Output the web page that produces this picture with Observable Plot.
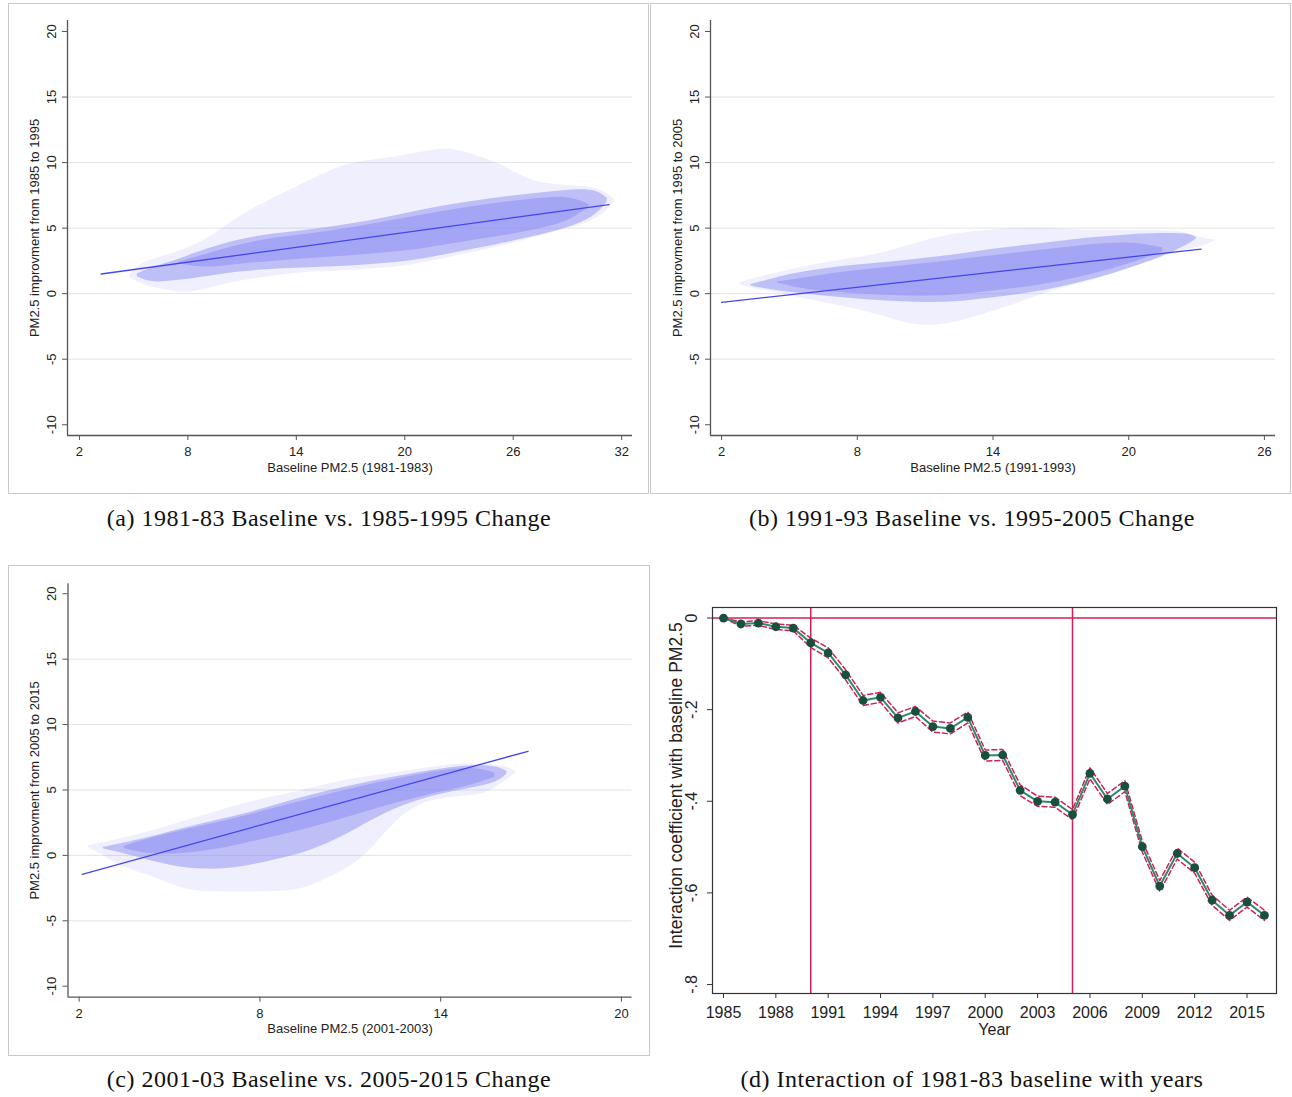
<!DOCTYPE html>
<html><head><meta charset="utf-8">
<script src="https://cdn.jsdelivr.net/npm/d3@7"></script>
<script src="https://cdn.jsdelivr.net/npm/@observablehq/plot@0.6"></script>
<style>
body{margin:0;background:#fff;}
#root{position:relative;width:1292px;height:1097px;overflow:hidden;background:#fff;}
.panel{position:absolute;}
.frame{position:absolute;border:1px solid #c9c9c9;box-sizing:border-box;}
.cap{position:absolute;font-family:"Liberation Serif",serif;font-size:24px;letter-spacing:0.5px;line-height:24px;text-align:center;white-space:nowrap;color:#111;}
</style></head><body><div id="root"></div>
<script>
// ---------- Shared scatter-panel axes ----------
const yTicksScatter = [-10, -5, 0, 5, 10, 15, 20];
const yGridScatter = [-5, 0, 5, 10, 15];

// ---------- Panel (a): 1981-83 baseline vs 1985-1995 change ----------
const aXTicks = [2, 8, 14, 20, 26, 32];
const aXLabel = "Baseline PM2.5 (1981-1983)";
const aYLabel = "PM2.5 improvment from 1985 to 1995";
// point-cloud envelopes (faint outer, band, dense core)
const aOuterX  = [4.8, 5.3, 6.5, 8.0, 9.5, 10.5, 12.0, 13.5, 15.0, 16.5, 18.0, 19.5, 21.0, 22.5, 24.0, 25.5, 27.0, 28.5, 30.0, 31.0, 31.6];
const aOuterLo = [1.2, 0.8, 0.3, 0.0, 0.5, 0.9, 1.2, 1.5, 1.7, 1.7, 1.9, 2.0, 2.3, 2.8, 3.2, 3.7, 4.2, 4.8, 5.3, 6.0, 7.0];
const aOuterHi = [1.4, 2.3, 2.8, 3.4, 4.5, 5.6, 6.8, 7.8, 8.8, 9.8, 10.2, 10.4, 10.8, 11.2, 10.5, 9.8, 8.5, 8.3, 8.2, 7.9, 7.2];
const aBandX   = [5.2, 6.0, 7.5, 9.0, 11.0, 13.0, 15.0, 17.0, 19.0, 21.0, 23.0, 25.0, 27.0, 29.0, 30.5, 31.2];
const aBandLo  = [1.3, 0.8, 1.0, 1.3, 1.7, 1.9, 2.0, 2.1, 2.3, 2.6, 3.2, 3.7, 4.3, 5.0, 5.8, 7.0];
const aBandHi  = [1.5, 2.0, 2.6, 3.4, 4.2, 4.6, 4.9, 5.3, 5.8, 6.4, 6.9, 7.3, 7.6, 7.9, 8.0, 7.3];
const aCoreX   = [7.5, 9, 11, 13, 15, 17, 19, 21, 23, 25, 27, 29, 30.2];
const aCoreLo  = [2.3, 1.9, 2.3, 2.5, 2.7, 2.9, 3.1, 3.4, 3.9, 4.3, 4.8, 5.4, 6.6];
const aCoreHi  = [2.4, 3.0, 3.8, 4.3, 4.6, 5.0, 5.5, 6.0, 6.5, 6.9, 7.2, 7.5, 6.8];
const aFitX = [3.2, 31.3];
const aFitY = [1.5, 6.8];

// ---------- Panel (b): 1991-93 baseline vs 1995-2005 change ----------
const bXTicks = [2, 8, 14, 20, 26];
const bXLabel = "Baseline PM2.5 (1991-1993)";
const bYLabel = "PM2.5 improvment from 1995 to 2005";
const bOuterX  = [2.8, 3.3, 4.5, 6.0, 7.5, 9.0, 10.5, 12.0, 13.5, 15.0, 16.5, 18.0, 19.5, 21.0, 22.3, 23.3, 23.8];
const bOuterLo = [0.7, 0.4, 0.1, -0.5, -1.0, -1.6, -2.5, -2.4, -1.6, -0.8, 0.2, 0.8, 1.6, 2.5, 3.3, 3.6, 4.0];
const bOuterHi = [0.8, 1.1, 1.6, 2.2, 2.6, 3.0, 3.8, 4.5, 4.8, 5.0, 5.0, 4.8, 4.8, 4.8, 4.8, 4.2, 4.1];
const bBandX   = [3.3, 3.8, 5.0, 6.5, 8.0, 9.5, 11.0, 12.5, 14.0, 15.5, 17.0, 18.5, 20.0, 21.5, 22.6, 23.0];
const bBandLo  = [0.6, 0.4, 0.1, -0.2, -0.4, -0.6, -0.7, -0.65, -0.3, 0.0, 0.5, 1.1, 1.9, 2.8, 3.7, 4.2];
const bBandHi  = [0.7, 0.9, 1.5, 1.9, 2.2, 2.4, 2.7, 3.0, 3.4, 3.7, 4.0, 4.3, 4.5, 4.6, 4.6, 4.3];
const bCoreX   = [4.5, 6, 8, 10, 12, 14, 16, 18, 20, 21.5];
const bCoreLo  = [0.8, 0.2, 0.0, -0.2, -0.2, 0.2, 0.6, 1.3, 2.2, 3.2];
const bCoreHi  = [0.9, 1.3, 1.8, 2.1, 2.5, 2.9, 3.3, 3.7, 4.0, 3.5];
const bFitX = [2.0, 23.2];
const bFitY = [-0.66, 3.4];

// ---------- Panel (c): 2001-03 baseline vs 2005-2015 change ----------
const cXTicks = [2, 8, 14, 20];
const cXLabel = "Baseline PM2.5 (2001-2003)";
const cYLabel = "PM2.5 improvment from 2005 to 2015";
const cOuterX  = [2.3, 2.6, 3.5, 4.5, 5.5, 6.5, 7.5, 8.5, 9.5, 10.5, 11.5, 12.5, 13.5, 14.5, 15.5, 16.2, 16.5];
const cOuterLo = [0.6, 0.3, -1.0, -1.6, -2.7, -2.8, -2.8, -2.8, -2.6, -1.5, -0.2, 2.8, 4.2, 4.5, 4.6, 5.8, 6.3];
const cOuterHi = [0.7, 0.9, 1.3, 1.9, 2.6, 3.3, 4.0, 4.5, 5.0, 5.6, 6.0, 6.3, 6.7, 7.0, 7.0, 6.8, 6.4];
const cBandX   = [2.8, 3.2, 4.2, 5.2, 6.2, 7.2, 8.2, 9.2, 10.2, 11.2, 12.2, 13.2, 14.2, 15.2, 15.9, 16.2];
const cBandLo  = [0.5, 0.3, -0.3, -0.9, -1.1, -1.0, -0.5, 0.0, 0.8, 2.0, 3.3, 4.2, 4.8, 5.2, 5.6, 6.2];
const cBandHi  = [0.6, 0.8, 1.3, 1.9, 2.5, 3.0, 3.6, 4.3, 4.9, 5.4, 5.9, 6.3, 6.7, 6.9, 6.8, 6.4];
const cCoreX   = [3.5, 4.5, 6.0, 7.5, 9.0, 10.5, 12.0, 13.5, 15.0, 15.8];
const cCoreLo  = [0.5, 0.0, 0.2, 0.9, 1.7, 2.6, 3.7, 4.6, 5.3, 6.0];
const cCoreHi  = [0.7, 1.4, 2.2, 3.0, 3.9, 4.8, 5.6, 6.3, 6.8, 6.3];
const cFitX = [2.1, 16.9];
const cFitY = [-1.45, 7.96];

// ---------- Panel (d): interaction coefficients by year ----------
const dYears = [1985,1986,1987,1988,1989,1990,1991,1992,1993,1994,1995,1996,1997,1998,1999,2000,2001,2002,2003,2004,2005,2006,2007,2008,2009,2010,2011,2012,2013,2014,2015,2016];
const dCoef  = [0,-0.013,-0.011,-0.019,-0.022,-0.054,-0.076,-0.124,-0.180,-0.173,-0.218,-0.204,-0.237,-0.241,-0.217,-0.300,-0.299,-0.376,-0.400,-0.402,-0.429,-0.339,-0.395,-0.367,-0.499,-0.585,-0.514,-0.545,-0.616,-0.649,-0.620,-0.649];
const dCiLow = [0,-0.018,-0.016,-0.025,-0.028,-0.064,-0.087,-0.135,-0.191,-0.184,-0.229,-0.215,-0.249,-0.253,-0.229,-0.312,-0.311,-0.388,-0.411,-0.413,-0.440,-0.351,-0.407,-0.379,-0.511,-0.597,-0.526,-0.557,-0.627,-0.660,-0.631,-0.660];
const dCiHigh= [0,-0.008,-0.006,-0.013,-0.016,-0.044,-0.065,-0.113,-0.169,-0.162,-0.207,-0.193,-0.225,-0.229,-0.205,-0.288,-0.287,-0.364,-0.389,-0.391,-0.418,-0.327,-0.383,-0.355,-0.487,-0.573,-0.502,-0.533,-0.605,-0.638,-0.609,-0.638];
const dRefYears = [1990, 2005];
const dXTicks = [1985,1988,1991,1994,1997,2000,2003,2006,2009,2012,2015];
const dYTicks = [0, -0.2, -0.4, -0.6, -0.8];
const dYTickLabels = ["0", "-.2", "-.4", "-.6", "-.8"];
const dXLabel = "Year";
const dYLabel = "Interaction coefficient with baseline PM2.5";

const captions = [
  "(a) 1981-83 Baseline vs. 1985-1995 Change",
  "(b) 1991-93 Baseline vs. 1995-2005 Change",
  "(c) 2001-03 Baseline vs. 2005-2015 Change",
  "(d) Interaction of 1981-83 baseline with years"
];

// ---------- helpers ----------
const root = document.getElementById("root");
const zip3 = (xs, lo, hi) => xs.map((x, i) => ({x, lo: lo[i], hi: hi[i]}));
const zip2 = (xs, ys) => xs.map((x, i) => ({x, y: ys[i]}));

function place(el, left, top) {
  const w = document.createElement("div");
  w.className = "panel";
  w.style.left = left + "px"; w.style.top = top + "px";
  w.appendChild(el);
  root.appendChild(w);
}
function frameBox(left, top, w, h) {
  const f = document.createElement("div");
  f.className = "frame";
  Object.assign(f.style, {left: left + "px", top: top + "px", width: w + "px", height: h + "px"});
  root.appendChild(f);
}
function caption(text, cx, top) {
  const c = document.createElement("div");
  c.className = "cap";
  c.textContent = text;
  Object.assign(c.style, {left: (cx - 300) + "px", width: "600px", top: top + "px"});
  root.appendChild(c);
}

const CLOUD = "#8f8ff3";
function scatterPanel(o) {
  const yDomain = o.yDomain;
  const p = Plot.plot({
    width: o.width, height: o.height,
    marginLeft: o.mL, marginRight: o.mR, marginTop: o.mT, marginBottom: o.mB,
    x: {domain: o.xDomain},
    y: {domain: yDomain},
    style: {fontFamily: "'Liberation Sans', Arial, sans-serif", fontSize: "13px", color: "#222", background: "transparent"},
    marks: [
      Plot.ruleY(yGridScatter, {stroke: "#e3e3e3", strokeWidth: 1}),
      Plot.areaY(o.outer, {x: "x", y1: "lo", y2: "hi", fill: CLOUD, fillOpacity: 0.14, curve: "basis"}),
      Plot.areaY(o.band, {x: "x", y1: "lo", y2: "hi", fill: CLOUD, fillOpacity: 0.5, curve: "basis"}),
      Plot.areaY(o.core, {x: "x", y1: "lo", y2: "hi", fill: CLOUD, fillOpacity: 0.55, curve: "basis"}),
      Plot.line(o.fit, {x: "x", y: "y", stroke: "#4545ee", strokeWidth: 1.3}),
      Plot.ruleX([o.xDomain[0]], {stroke: "#555", strokeWidth: 1.3}),
      Plot.ruleY([yDomain[0]], {stroke: "#555", strokeWidth: 1.3}),
      Plot.axisX({ticks: o.xTicks, tickSize: 5, tickPadding: 6.5, label: null, tickFormat: d => String(d), stroke: "#555"}),
      Plot.axisY({ticks: yTicksScatter, tickSize: 5, tickFormat: () => "", label: null, stroke: "#555"}),
      Plot.text(yTicksScatter, {y: d => d, text: d => String(d), frameAnchor: "left", dx: -16, rotate: -90, textAnchor: "middle", lineAnchor: "middle", fill: "#222"}),
      Plot.text([o.xLabel], {frameAnchor: "bottom", dy: 32, textAnchor: "middle", lineAnchor: "middle", fill: "#222"}),
      Plot.text([o.yLabel], {frameAnchor: "left", dx: -33, rotate: -90, textAnchor: "middle", lineAnchor: "middle", fill: "#222"})
    ]
  });
  place(p, o.left, o.top);
}

// frames of panels a, b, c
frameBox(8, 3, 641, 491);
frameBox(650, 3, 641, 491);
frameBox(8, 565, 642, 491);

scatterPanel({
  left: 8, top: 3, width: 640, height: 490, mL: 59, mR: 16, mT: 17, mB: 58,
  xDomain: [1.34, 32.6], yDomain: [-10.82, 20.84], xTicks: aXTicks,
  xLabel: aXLabel, yLabel: aYLabel,
  outer: zip3(aOuterX, aOuterLo, aOuterHi), band: zip3(aBandX, aBandLo, aBandHi), core: zip3(aCoreX, aCoreLo, aCoreHi),
  fit: zip2(aFitX, aFitY)
});
scatterPanel({
  left: 651, top: 3, width: 641, height: 490, mL: 59, mR: 17, mT: 17, mB: 58,
  xDomain: [1.51, 26.49], yDomain: [-10.82, 20.84], xTicks: bXTicks,
  xLabel: bXLabel, yLabel: bYLabel,
  outer: zip3(bOuterX, bOuterLo, bOuterHi), band: zip3(bBandX, bBandLo, bBandHi), core: zip3(bCoreX, bCoreLo, bCoreHi),
  fit: zip2(bFitX, bFitY)
});
scatterPanel({
  left: 8, top: 565, width: 642, height: 490, mL: 59.5, mR: 18.5, mT: 18.3, mB: 58.3,
  xDomain: [1.63, 20.35], yDomain: [-10.84, 20.76], xTicks: cXTicks,
  xLabel: cXLabel, yLabel: cYLabel,
  outer: zip3(cOuterX, cOuterLo, cOuterHi), band: zip3(cBandX, cBandLo, cBandHi), core: zip3(cCoreX, cCoreLo, cCoreHi),
  fit: zip2(cFitX, cFitY)
});

// panel d
const dData = dYears.map((year, i) => ({year, coef: dCoef[i], lo: dCiLow[i], hi: dCiHigh[i]}));
const RED = "#d21f55";
const pd = Plot.plot({
  width: 641, height: 490,
  marginLeft: 61, marginRight: 16, marginTop: 42, marginBottom: 62,
  x: {domain: [1984.37, 2016.69]},
  y: {domain: [-0.8196, 0.023]},
  style: {fontFamily: "'Liberation Sans', Arial, sans-serif", fontSize: "16px", color: "#222", background: "transparent"},
  marks: [
    Plot.ruleY([0], {stroke: RED, strokeWidth: 1.5}),
    Plot.ruleX(dRefYears, {stroke: RED, strokeWidth: 1.5}),
    Plot.line(dData, {x: "year", y: "lo", stroke: RED, strokeWidth: 1.5, strokeDasharray: "5,3"}),
    Plot.line(dData, {x: "year", y: "hi", stroke: RED, strokeWidth: 1.5, strokeDasharray: "5,3"}),
    Plot.line(dData, {x: "year", y: "coef", stroke: "#2e8a68", strokeWidth: 2}),
    Plot.dot(dData, {x: "year", y: "coef", r: 4.4, fill: "#1a4f3f"}),
    Plot.frame({stroke: "#333", strokeWidth: 1.2}),
    Plot.axisX({ticks: dXTicks, tickSize: 5, tickPadding: 8, label: null, tickFormat: d => String(d), stroke: "#333"}),
    Plot.axisY({ticks: dYTicks, tickSize: 5, tickFormat: () => "", label: null, stroke: "#333"}),
    Plot.text(dYTicks, {y: d => d, text: (d, i) => dYTickLabels[i], frameAnchor: "left", dx: -21, rotate: -90, textAnchor: "middle", lineAnchor: "middle", fill: "#222"}),
    Plot.text([dXLabel], {frameAnchor: "bottom", dy: 36, fontSize: 16, textAnchor: "middle", lineAnchor: "middle", fill: "#222"}),
    Plot.text([dYLabel], {frameAnchor: "left", dx: -36, dy: -15, rotate: -90, fontSize: 17.5, textAnchor: "middle", lineAnchor: "middle", fill: "#222"})
  ]
});
place(pd, 651, 565);

// captions
caption(captions[0], 329, 506);
caption(captions[1], 972, 506);
caption(captions[2], 329, 1067);
caption(captions[3], 972, 1067);
</script></body></html>
